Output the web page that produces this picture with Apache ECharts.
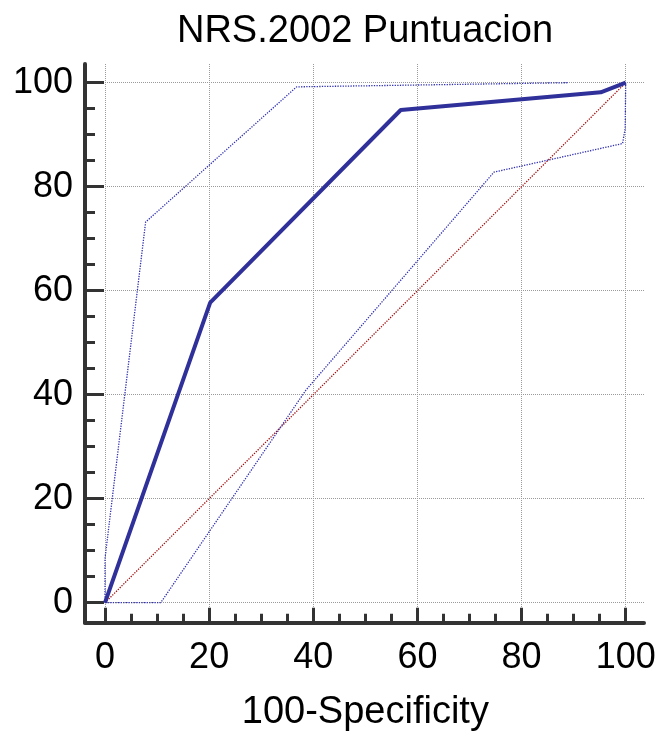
<!DOCTYPE html>
<html>
<head>
<meta charset="utf-8">
<script src="https://cdn.jsdelivr.net/npm/echarts@6/dist/echarts.min.js"></script>
<style>
  html, body { margin: 0; padding: 0; background: #fff; }
  #chart { width: 661px; height: 731px; }
</style>
</head>
<body>
<div id="chart"></div>
<script>
// ROC curve for the NRS.2002 score, with its confidence band and the chance diagonal
const rocX = [0, 20.2, 56.8, 95.2, 100];
const rocY = [0, 57.7, 94.75, 98.15, 100];

const upperX = [0, 0, 7.8, 36.8, 88.9];
const upperY = [0, 8.5, 73.2, 99.2, 100];

const lowerX = [0, 10.7, 38.6, 74.7, 99.4, 99.9, 100];
const lowerY = [0, 0, 40.9, 82.8, 88.3, 91.2, 100];

const diagX = [0, 100];
const diagY = [0, 100];

const xTicks = [0, 20, 40, 60, 80, 100];
const yTicks = [0, 20, 40, 60, 80, 100];

const FONT = 'Liberation Sans, Arial, sans-serif';
const AXIS_DARK = '#333333';
const GRID_GREY = '#9a9a9a';
const BAND_BLUE = '#3030b0';

function pairs(xs, ys) {
  return xs.map((x, i) => [x, ys[i]]);
}

const chart = echarts.init(document.getElementById('chart'), null, { renderer: 'canvas' });

// Two grids: grid 0 carries the x scale (0..100) and the data; grid 1 carries the y scale.
// The framing axis lines sit 20px outside the data range on both sides.
const left0 = 105, right0 = 625.7, top0 = 64, bottom0 = 622.7;
const left1 = 85, right1 = 644, top1 = 82.7, bottom1 = 602.7;
const pxPerX = (right0 - left0) / 100;
const pxPerY = (bottom1 - top1) / 100;

const option = {
  backgroundColor: '#ffffff',
  animation: false,
  title: {
    text: 'NRS.2002 Puntuacion',
    left: 360,
    textAlign: 'center',
    top: 8,
    textStyle: { fontFamily: FONT, fontSize: 38, fontWeight: 'normal', color: '#000' }
  },
  grid: [
    { left: left0, top: top0, width: right0 - left0, height: bottom0 - top0, containLabel: false, outerBoundsMode: 'none' },
    { left: left1, top: top1, width: right1 - left1, height: bottom1 - top1, containLabel: false, outerBoundsMode: 'none' }
  ],
  xAxis: [
    {
      type: 'value', gridIndex: 0, min: 0, max: 100, interval: 20, position: 'bottom',
      axisLine: { show: false, onZero: false },
      axisTick: { show: true, inside: true, length: 15, lineStyle: { color: AXIS_DARK, width: 3 } },
      minorTick: { show: true, splitNumber: 4, length: 9, lineStyle: { color: AXIS_DARK, width: 3 } },
      axisLabel: {
        show: true, margin: 17, color: '#000', fontFamily: FONT, fontSize: 36,
        formatter: (v) => (xTicks.includes(v) ? String(v) : '')
      },
      splitLine: { show: true, lineStyle: { color: GRID_GREY, width: 1, type: [1, 1] } },
      name: '100-Specificity',
      nameLocation: 'middle',
      nameGap: 71,
      nameTextStyle: { fontFamily: FONT, fontSize: 38, color: '#000' }
    },
    {
      type: 'value', gridIndex: 1, position: 'bottom',
      min: (left1 - left0) / pxPerX, max: (right1 - left0) / pxPerX,
      offset: bottom0 - bottom1,
      axisLine: { show: true, onZero: false, lineStyle: { color: AXIS_DARK, width: 4 } },
      axisTick: { show: false }, axisLabel: { show: false }, splitLine: { show: false }
    }
  ],
  yAxis: [
    {
      type: 'value', gridIndex: 0, position: 'left',
      min: (bottom1 - bottom0) / pxPerY, max: (bottom1 - top0) / pxPerY,
      offset: left0 - left1,
      axisLine: { show: true, onZero: false, lineStyle: { color: AXIS_DARK, width: 4 } },
      axisTick: { show: false }, axisLabel: { show: false }, splitLine: { show: false }
    },
    {
      type: 'value', gridIndex: 1, min: 0, max: 100, interval: 20, position: 'left',
      axisLine: { show: false, onZero: false },
      axisTick: { show: true, inside: true, length: 19, lineStyle: { color: AXIS_DARK, width: 3 } },
      minorTick: { show: true, splitNumber: 4, length: 10, lineStyle: { color: AXIS_DARK, width: 3 } },
      axisLabel: {
        show: true, margin: 12, color: '#000', fontFamily: FONT, fontSize: 36,
        formatter: (v) => (yTicks.includes(v) ? String(v) : '')
      },
      splitLine: { show: true, lineStyle: { color: GRID_GREY, width: 1, type: [1, 1] } }
    }
  ],
  series: [
    {
      name: 'Diagonal', type: 'line', xAxisIndex: 0, yAxisIndex: 0,
      data: pairs(diagX, diagY), showSymbol: false, clip: false,
      lineStyle: { color: '#a01010', width: 1.3, type: [1.3, 1.3] }, z: 3
    },
    {
      name: 'Lower', type: 'line', xAxisIndex: 0, yAxisIndex: 0,
      data: pairs(lowerX, lowerY), showSymbol: false, clip: false,
      lineStyle: { color: BAND_BLUE, width: 1.3, type: [1.3, 1.3] }, z: 3
    },
    {
      name: 'Upper', type: 'line', xAxisIndex: 0, yAxisIndex: 0,
      data: pairs(upperX, upperY), showSymbol: false, clip: false,
      lineStyle: { color: BAND_BLUE, width: 1.3, type: [1.3, 1.3] }, z: 3
    },
    {
      name: 'ROC', type: 'line', xAxisIndex: 0, yAxisIndex: 0,
      data: pairs(rocX, rocY), showSymbol: false, clip: false,
      lineStyle: { color: '#30309a', width: 4 }, z: 4
    }
  ]
};

chart.setOption(option);
</script>
</body>
</html>
